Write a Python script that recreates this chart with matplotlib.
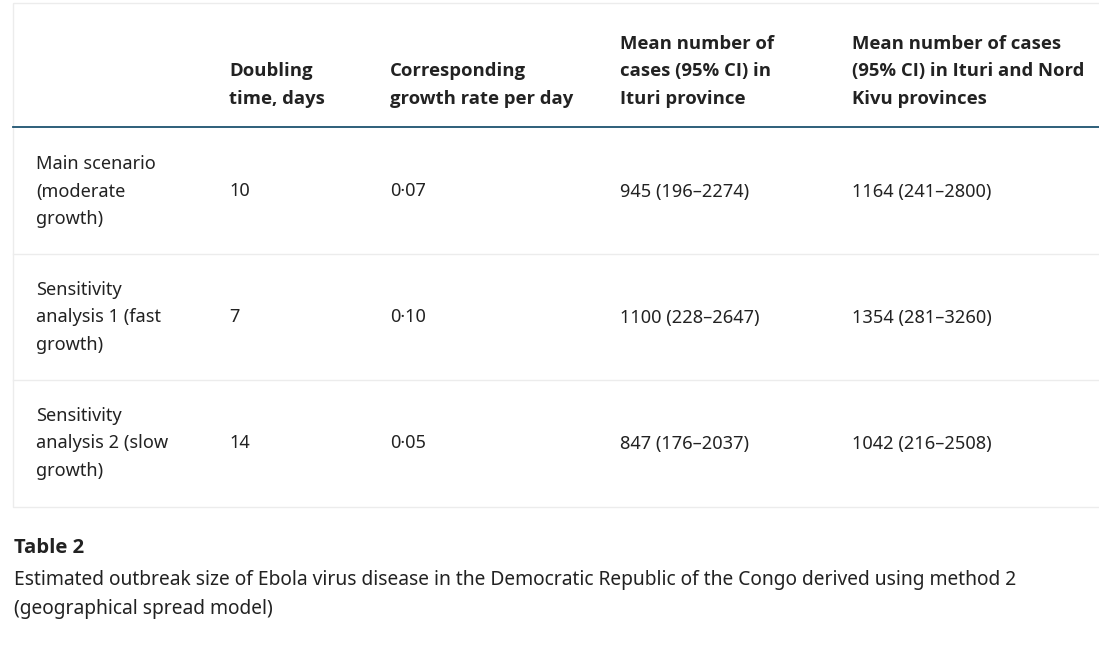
import matplotlib.pyplot as plt
from matplotlib.patches import Rectangle
from matplotlib.textpath import TextPath
from matplotlib.font_manager import FontProperties

# table content
headers = [
    "",
    "Doubling\ntime, days",
    "Corresponding\ngrowth rate per day",
    "Mean number of\ncases (95% CI) in\nIturi province",
    "Mean number of cases\n(95% CI) in Ituri and Nord\nKivu provinces",
]
scenarios = [
    "Main scenario\n(moderate\ngrowth)",
    "Sensitivity\nanalysis 1 (fast\ngrowth)",
    "Sensitivity\nanalysis 2 (slow\ngrowth)",
]
doubling_days = ["10", "7", "14"]
growth_rates = ["0\u00b707", "0\u00b710", "0\u00b705"]
ituri_cases = ["945 (196\u20132274)", "1100 (228\u20132647)", "847 (176\u20132037)"]
ituri_nord_kivu_cases = ["1164 (241\u20132800)", "1354 (281\u20133260)", "1042 (216\u20132508)"]

caption_title = "Table 2"
caption_text = ("Estimated outbreak size of Ebola virus disease in the Democratic Republic of the Congo derived using method 2\n"
                "(geographical spread model)")

W, H = 1099, 646
TEXT = "#222222"
FONT = "Noto Sans"
BOLD_FONT = "Open Sans"


def fit_size(s, family, weight, target_px):
    # font size (pt) that makes string s about target_px wide at dpi 100
    fp = FontProperties(family=family, weight=weight, size=72)
    ext = TextPath((0, 0), s, prop=fp).get_extents()
    px_at_72 = ext.width * 100 / 72
    return 72 * target_px / px_at_72


FS_BODY = fit_size("Main scenario", FONT, "normal", 117)
FS_HEAD = fit_size("Doubling", BOLD_FONT, "bold", 81)
FS_CAP = fit_size(caption_text.split("\n")[0], FONT, "normal", 1004)
FS_CAP_TITLE = fit_size(caption_title, BOLD_FONT, "bold", 69)


def setup():
    fig = plt.figure(figsize=(W / 100, H / 100), dpi=100)
    ax = fig.add_axes([0, 0, 1, 1])
    ax.set_xlim(0, W)
    ax.set_ylim(H, 0)
    ax.axis("off")
    return fig, ax


def draw_grid(ax):
    ax.add_patch(Rectangle((13, 3), W, 504, fill=False, edgecolor="#ececec", lw=1))
    ax.plot([13, W], [127, 127], color="#1d5370", lw=1.3)
    for y in [254, 380]:
        ax.plot([13, W], [y, y], color="#ececec", lw=1)


def draw_cells(ax):
    col_x = [36, 229, 390, 620, 852]
    line_h = 27.3
    # header: bottom aligned on the last line
    for x, h in zip(col_x, headers):
        if not h:
            continue
        lines = h.split("\n")
        for k, line in enumerate(reversed(lines)):
            ax.text(x, 98.5 - k * line_h, line, fontsize=FS_HEAD, fontweight="bold",
                    color=TEXT, va="center", ha="left", family=BOLD_FONT)

    row_mid = [191.5, 317.5, 443.5]
    columns = [scenarios, doubling_days, growth_rates, ituri_cases, ituri_nord_kivu_cases]
    for i, ym in enumerate(row_mid):
        for x, col in zip(col_x, columns):
            lines = col[i].split("\n")
            n = len(lines)
            for k, line in enumerate(lines):
                y = ym + (k - (n - 1) / 2) * line_h
                ax.text(x, y, line, fontsize=FS_BODY, color=TEXT, va="center",
                        ha="left", family=FONT)


def draw_caption(ax):
    ax.text(14, 548, caption_title, fontsize=FS_CAP_TITLE, fontweight="bold", color=TEXT,
            va="center", ha="left", family=BOLD_FONT)
    for k, line in enumerate(caption_text.split("\n")):
        ax.text(14, 580 + k * 29, line, fontsize=FS_CAP, color=TEXT,
                va="center", ha="left", family=FONT)


def main():
    fig, ax = setup()
    draw_grid(ax)
    draw_cells(ax)
    draw_caption(ax)
    fig.savefig("out.png", dpi=100, facecolor="white")


if __name__ == "__main__":
    main()
